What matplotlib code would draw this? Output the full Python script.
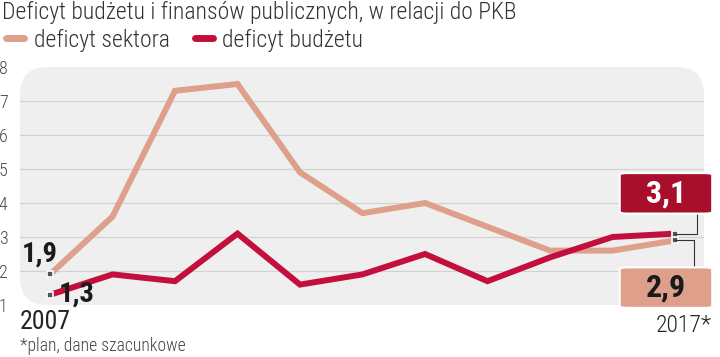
import matplotlib.pyplot as plt
from matplotlib.patches import FancyBboxPatch
from matplotlib.lines import Line2D
import matplotlib.font_manager as fm

names = {f.name for f in fm.fontManager.ttflist}
NARROW = next(n for n in ['Roboto Condensed', 'Archivo Narrow', 'Barlow Condensed',
                          'Liberation Sans Narrow', 'DejaVu Sans'] if n in names)
plt.rcParams['font.family'] = [NARROW, 'DejaVu Sans']

years = list(range(2007, 2018))
sektor = [1.9, 3.6, 7.3, 7.5, 4.9, 3.7, 4.0, 3.3, 2.6, 2.6, 2.9]
budzet = [1.3, 1.9, 1.7, 3.1, 1.6, 1.9, 2.5, 1.7, 2.4, 3.0, 3.1]

c_sek = '#dea08a'
c_bud = '#c20f3c'

fig = plt.figure(figsize=(7.2, 3.57), dpi=100)
ax = fig.add_axes([20 / 720, 52 / 357, 684 / 720, 238 / 357])
ax.set_xlim(2006.52, 2017.464)
ax.set_ylim(1, 8)
ax.set_facecolor('none')
for s in ax.spines.values():
    s.set_visible(False)

bg = FancyBboxPatch((0, 0), 1, 1, boxstyle='round,pad=0,rounding_size=0.04',
                    transform=ax.transAxes, facecolor='#efefef', edgecolor='none',
                    zorder=0, mutation_aspect=684 / 238)
ax.add_patch(bg)

for g in range(2, 8):
    ax.axhline(g, color='#d2d2d2', lw=0.9, zorder=1)

ax.set_yticks(range(1, 9))
ax.tick_params(axis='y', length=0, pad=9, labelsize=13, labelcolor='#4a4a4a')
for t in ax.get_yticklabels():
    t.set_fontweight(300)
ax.set_xticks([])

ax.plot(years, sektor, color=c_sek, lw=4.3, solid_joinstyle='miter', zorder=3)
ax.plot(years, budzet, color=c_bud, lw=4.3, solid_joinstyle='miter', zorder=4)

# end markers
for ser in (sektor, budzet):
    for i in (0, -1):
        ax.plot(years[i], ser[i], marker='s', ms=5, mfc='#555555', mec='white',
                mew=1.2, zorder=6, clip_on=False)

def lab(v):
    return f'{v:.1f}'.replace('.', ',')

ax.annotate(lab(sektor[0]), (years[0], sektor[0]), xytext=(-20, 5),
            textcoords='offset points', fontsize=20.5, fontweight='bold',
            color='#1a1a1a', ha='left', va='bottom', zorder=7)
ax.annotate(lab(budzet[0]), (years[0], budzet[0]), xytext=(6, 0.5),
            textcoords='offset points', fontsize=20.5, fontweight='bold',
            color='#1a1a1a', ha='left', va='center', zorder=7)

# end value boxes with connectors
for ser, dy, fc, tc, rp in ((budzet, 29, '#a80f2c', 'white', (1.28, 0.0)),
                            (sektor, -34, c_sek, '#1a1a1a', (1.2, 1.0))):
    x, y = years[-1], ser[-1]
    ax.annotate(lab(y), (x, y), xytext=(-6.5, dy), textcoords='offset points',
                fontsize=23, fontweight='bold', color=tc, ha='center', va='center',
                zorder=8, annotation_clip=False,
                bbox=dict(boxstyle='round,pad=0.82,rounding_size=0.25', fc=fc,
                          ec='white', lw=1.5, mutation_aspect=0.2),
                arrowprops=dict(arrowstyle='-', color='#333333', lw=0.8, relpos=rp,
                                connectionstyle='angle,angleA=90,angleB=0,rad=0',
                                shrinkA=0, shrinkB=0))

fig.text(20 / 720, 1 - 322 / 357, '2007', fontsize=18.5, color='#222222',
         ha='left', va='center')
fig.text(712 / 720, 1 - 325 / 357, '2017*', fontsize=17, fontweight=300,
         color='#222222', ha='right', va='center')
fig.text(20 / 720, 1 - 346 / 357, '*plan, dane szacunkowe', fontsize=12.7,
         fontweight=300, color='#444444', ha='left', va='center')

fig.text(2 / 720, 1 - 12 / 357, 'Deficyt budżetu i finansów publicznych, w relacji do PKB',
         fontsize=17, fontweight=300, color='#333333', ha='left', va='center')

fig.legend(handles=[Line2D([], [], color=c_sek, lw=5, solid_capstyle='round'),
                    Line2D([], [], color=c_bud, lw=5, solid_capstyle='round')],
           labels=['deficyt sektora', 'deficyt budżetu'],
           loc='center left', bbox_to_anchor=(6 / 720, 1 - 40 / 357), ncol=2,
           frameon=False, prop={'size': 17, 'weight': 300}, handlelength=0.78,
           handletextpad=0.4, columnspacing=1.05, borderaxespad=0, borderpad=0,
           labelcolor='#333333')

fig.savefig('out.png', dpi=100)
